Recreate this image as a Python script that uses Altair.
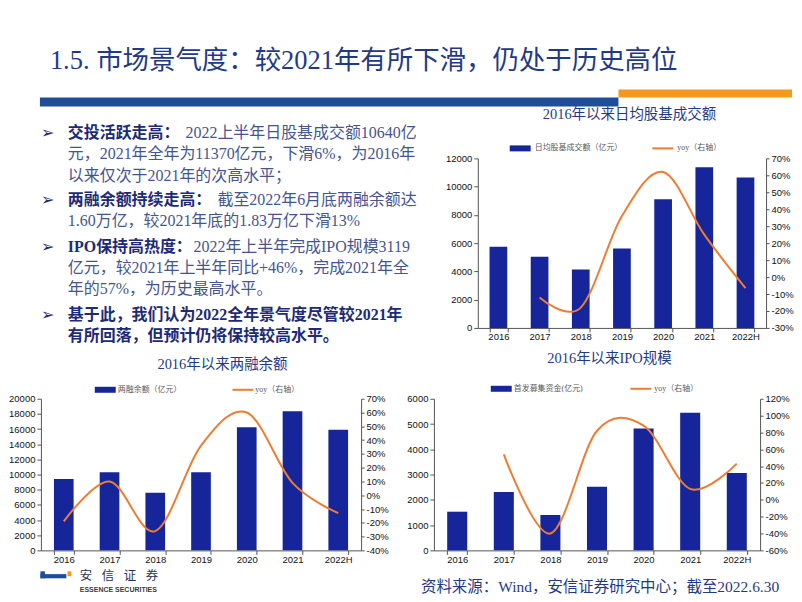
import altair as alt
import pandas as pd

# ---------------- data ----------------
years = ["2016", "2017", "2018", "2019", "2020", "2021", "2022H"]

turnover = [5740, 5030, 4140, 5620, 9100, 11370, 10640]
turnover_yoy = [None, -0.12, -0.18, 0.36, 0.62, 0.25, -0.065]

margin = [9400, 10300, 7600, 10300, 16250, 18350, 15900]
margin_yoy = [-0.19, 0.10, -0.26, 0.36, 0.60, 0.09, -0.13]

ipo = [1530, 2310, 1400, 2520, 4820, 5450, 3060]
ipo_yoy = [None, 0.54, -0.40, 0.82, 0.88, 0.13, 0.43]

page_title = "1.5. 市场景气度：较2021年有所下滑，仍处于历史高位"
title1 = "2016年以来日均股基成交额"
title2 = "2016年以来两融余额"
title3 = "2016年以来IPO规模"
bar_name1 = "日均股基成交额（亿元）"
bar_name2 = "两融余额（亿元）"
bar_name3 = "首发募集资金(亿元)"
line_name = "yoy（右轴）"
source_text = "资料来源：Wind，安信证券研究中心；截至2022.6.30"
logo_cn = "安信证券"
logo_en = "ESSENCE SECURITIES"

bullets = [
    [("交投活跃走高：", "2022上半年日股基成交额10640亿"),
     ("", "元，2021年全年为11370亿元，下滑6%，为2016年"),
     ("", "以来仅次于2021年的次高水平；")],
    [("两融余额持续走高：", "截至2022年6月底两融余额达"),
     ("", "1.60万亿，较2021年底的1.83万亿下滑13%")],
    [("IPO保持高热度：", "2022年上半年完成IPO规模3119"),
     ("", "亿元，较2021年上半年同比+46%，完成2021年全"),
     ("", "年的57%，为历史最高水平。")],
    [("基于此，我们认为2022全年景气度尽管较2021年", ""),
     ("有所回落，但预计仍将保持较高水平。", "")],
]

# ---------------- style ----------------
NAVY = "#1F3A86"
TXT_BOLD = "#1C2A78"
TXT_BODY = "#45558F"
BAR = "#17259A"
ORANGE = "#ED7D31"
BAND_BLUE = "#1F4E96"
BAND_ORANGE = "#F39A1E"
SERIF = "Liberation Serif, Noto Sans CJK SC"
AXC = "#555555"

ONE = pd.DataFrame({"k": [0]})


def txt(s, x, y, size, color, font=SERIF, weight="normal", align="left", baseline="middle"):
    return alt.Chart(ONE).mark_text(
        text=s, fontSize=size, color=color, font=font, fontWeight=weight,
        align=align, baseline=baseline
    ).encode(x=alt.value(x), y=alt.value(y))


def box(x1, x2, y1, y2, color):
    return alt.Chart(ONE).mark_rect(color=color).encode(
        x=alt.value(x1), x2=alt.value(x2), y=alt.value(y1), y2=alt.value(y2))


def hline(x1, x2, y, color, w):
    return alt.Chart(ONE).mark_rule(color=color, strokeWidth=w).encode(
        x=alt.value(x1), x2=alt.value(x2), y=alt.value(y))


def dual(vals, yoys, lmax, lstep, rmin, rmax, rstep, w, h, deco):
    df = pd.DataFrame({"year": years, "value": vals, "yoy": yoys})
    xenc = alt.X(
        "year:N", sort=years,
        scale=alt.Scale(paddingInner=0.57, paddingOuter=0.285),
        axis=alt.Axis(title=None, labelAngle=0, tickBand="extent", tickSize=4,
                      labelPadding=0, labelFontSize=9.5, labelColor="#111111",
                      labelFont="Liberation Sans", domainColor=AXC, tickColor=AXC),
    )
    lvals = list(range(0, lmax + 1, lstep))
    n = int(round((rmax - rmin) / rstep))
    rvals = [round(rmin + i * rstep, 2) for i in range(n + 1)]
    bars = alt.Chart(df).mark_bar(color=BAR).encode(
        x=xenc,
        y=alt.Y("value:Q", scale=alt.Scale(domain=[0, lmax], nice=False),
                axis=alt.Axis(title=None, grid=False, orient="left", values=lvals,
                              format="d", tickSize=4, labelPadding=2,
                              labelFontSize=9.5, labelColor="#111111",
                              labelFont="Liberation Sans",
                              domainColor=AXC, tickColor=AXC)),
    )
    line = alt.Chart(df).transform_filter("isValid(datum.yoy)").mark_line(
        color=ORANGE, strokeWidth=2, interpolate="cardinal"
    ).encode(
        x=xenc,
        y=alt.Y("yoy:Q", scale=alt.Scale(domain=[rmin, rmax], nice=False, zero=False),
                axis=alt.Axis(title=None, grid=False, orient="right", values=rvals,
                              format=".0%", tickSize=3, labelPadding=2,
                              labelFontSize=9.5, labelColor="#111111",
                              labelFont="Liberation Sans",
                              domainColor=AXC, tickColor=AXC)),
    )
    return alt.layer(bars, line, *deco).resolve_scale(y="independent").properties(
        width=w, height=h)


def legend(bx, tx, lx, l2x, y, name):
    return [
        box(bx, bx + 21, y - 3, y + 3, BAR),
        txt(name, tx, y, 8, "#595959", font=SERIF),
        hline(lx, lx + 21, y, ORANGE, 2),
        txt(line_name, l2x, y, 8, "#595959", font=SERIF),
    ]


# ---------------- text panel (origin page 41,158) ----------------
OX, OY = 41, 158
FS = 16
LH = 21.3
tops = [132.7, 200, 246.7, 315]


def text_w(s):
    return sum(FS if ord(c) > 0x2E80 else 0.5 * FS for c in s)


rows = []
arrows = []
for bi, lines in enumerate(bullets):
    arrows.append({"t": "➢", "x": 41 - OX, "y": tops[bi] - OY})
    for li, (b, nrm) in enumerate(lines):
        y = tops[bi] + li * LH - OY
        if b:
            rows.append({"t": b, "x": 68 - OX, "y": y, "k": "b"})
        if nrm:
            x0 = 68 + (text_w(b) + 6 if b else 0)
            rows.append({"t": nrm, "x": x0 - OX, "y": y, "k": "n"})
tdf = pd.DataFrame(rows)
adf = pd.DataFrame(arrows)

tbase = alt.Chart(tdf).encode(
    x=alt.X("x:Q", scale=None), y=alt.Y("y:Q", scale=None), text="t:N")
bold_layer = tbase.transform_filter("datum.k == 'b'").mark_text(
    align="left", baseline="middle", font=SERIF, fontSize=FS, fontWeight="bold",
    color=TXT_BOLD)
norm_layer = tbase.transform_filter("datum.k == 'n'").mark_text(
    align="left", baseline="middle", font=SERIF, fontSize=FS, color=TXT_BODY)
arrow_layer = alt.Chart(adf).mark_text(
    align="left", baseline="middle", font="DejaVu Sans", fontSize=16,
    fontWeight="bold", color=TXT_BOLD).encode(
    x=alt.X("x:Q", scale=None), y=alt.Y("y:Q", scale=None), text="t:N")

header = [
    txt(page_title, 50 - OX, 60 - OY, 26.5, NAVY, font=SERIF),
    box(40 - OX, 620 - OX, 97 - OY, 106 - OY, BAND_BLUE),
    box(620 - OX, 794 - OX, 89 - OY, 97 - OY, BAND_ORANGE),
]

text_panel = alt.layer(*header, bold_layer, norm_layer, arrow_layer).properties(
    width=400, height=170)

# ---------------- chart 1 (origin page 479,158) ----------------
deco1 = [txt(title1, 152, -43, 14.5, NAVY, align="center")] + legend(32, 57, 175, 200, -10, bar_name1)
chart1 = dual(turnover, turnover_yoy, 12000, 2000, -0.3, 0.7, 0.1, 289, 170, deco1)

# ---------------- chart 2 (origin page 41,399) ----------------
C2X, C2Y = 41, 399
deco2 = [txt(title2, 182, -34, 14.5, NAVY, align="center")] + legend(54, 77, 192, 215, -9, bar_name2)
logo_chars = [txt(ch, 80 + i * 22 - C2X, 577 - C2Y, 12.5, "#2A3558", font="Noto Sans CJK SC")
              for i, ch in enumerate(logo_cn)]
deco2 += [
    box(40.5 - C2X, 45 - C2X, 572 - C2Y, 579 - C2Y, BAND_BLUE),
    box(40.5 - C2X, 66.5 - C2X, 574.8 - C2Y, 579 - C2Y, BAND_BLUE),
    box(67.7 - C2X, 71.5 - C2X, 572 - C2Y, 577 - C2Y, BAND_ORANGE),
    txt(logo_en, 80 - C2X, 590.5 - C2Y, 7, "#3A3A3A",
        font="Liberation Sans Narrow, Liberation Sans", weight="bold"),
] + logo_chars
chart2 = dual(margin, margin_yoy, 20000, 2000, -0.4, 0.7, 0.1, 321, 152, deco2)

# ---------------- chart 3 (origin page 435,399) ----------------
C3X, C3Y = 435, 399
deco3 = [txt(title3, 176, -40, 14.5, NAVY, align="center")] + legend(57, 80, 197, 221, -10, bar_name3)
deco3 += [txt(source_text, 422 - C3X, 588 - C3Y, 15.5, NAVY, font=SERIF)]
chart3 = dual(ipo, ipo_yoy, 6000, 1000, -0.6, 1.2, 0.2, 327, 152, deco3)

row1 = alt.hconcat(text_panel, chart1, spacing=38, bounds="flush")
row2 = alt.hconcat(chart2, chart3, spacing=73, bounds="flush")

chart = alt.vconcat(row1, row2, spacing=6).properties(
    padding={"left": 0, "top": 39, "right": 0, "bottom": 0},
    background="white",
).configure(
    locale={"number": {"decimal": ".", "thousands": ",", "grouping": [3],
                       "currency": ["", ""], "minus": "-"}}
).configure_view(stroke=None)

chart.save("out.html", embed_options={"renderer": "svg", "actions": False})
